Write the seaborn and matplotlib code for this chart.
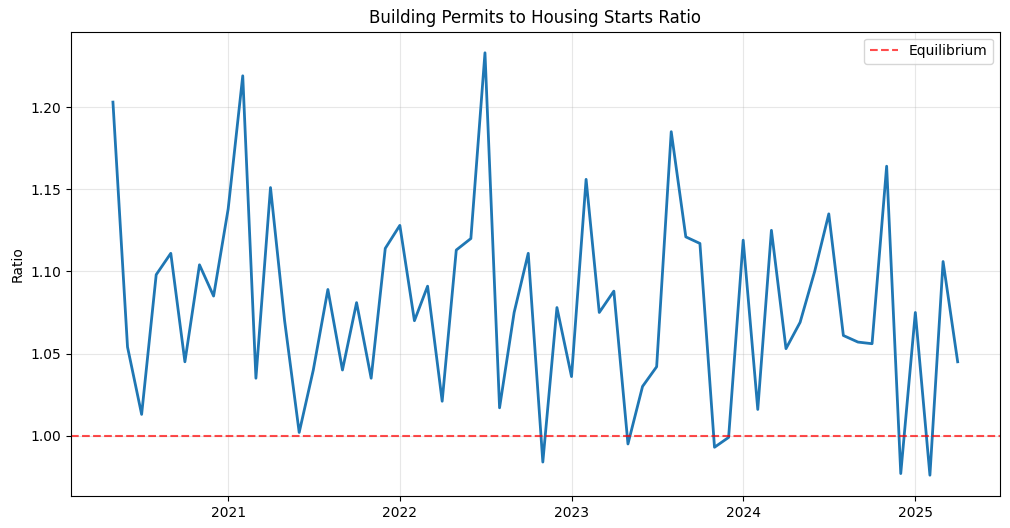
import pandas as pd
import matplotlib
matplotlib.use('Agg')
import matplotlib.pyplot as plt
import matplotlib.dates as mdates
import seaborn as sns

dates = pd.date_range('2020-05-01', periods=60, freq='MS')
ratio = [1.203, 1.054, 1.013, 1.098, 1.111, 1.045, 1.104, 1.085,
         1.138, 1.219, 1.035, 1.151, 1.070, 1.002, 1.040, 1.089, 1.040, 1.081, 1.035, 1.114,
         1.128, 1.070, 1.091, 1.021, 1.113, 1.120, 1.233, 1.017, 1.075, 1.111, 0.984, 1.078,
         1.036, 1.156, 1.075, 1.088, 0.995, 1.030, 1.042, 1.185, 1.121, 1.117, 0.993, 0.999,
         1.119, 1.016, 1.125, 1.053, 1.069, 1.100, 1.135, 1.061, 1.057, 1.056, 1.164, 0.977,
         1.075, 0.976, 1.106, 1.045]

df = pd.DataFrame({'date': dates, 'ratio': ratio})

fig, ax = plt.subplots(figsize=(10.1, 5.28), dpi=100)
sns.lineplot(data=df, x='date', y='ratio', ax=ax, color='#1f77b4', linewidth=2)
ax.axhline(1.0, color='red', linestyle='--', alpha=0.7, label='Equilibrium')
ax.set_title('Building Permits to Housing Starts Ratio')
ax.set_xlabel('')
ax.set_ylabel('Ratio')
ax.grid(True, alpha=0.3)
ax.xaxis.set_major_locator(mdates.YearLocator())
ax.xaxis.set_major_formatter(mdates.DateFormatter('%Y'))
ax.legend(loc='upper right')
plt.subplots_adjust(left=0.07, right=0.99, top=0.94, bottom=0.06)
plt.savefig('out.png')
